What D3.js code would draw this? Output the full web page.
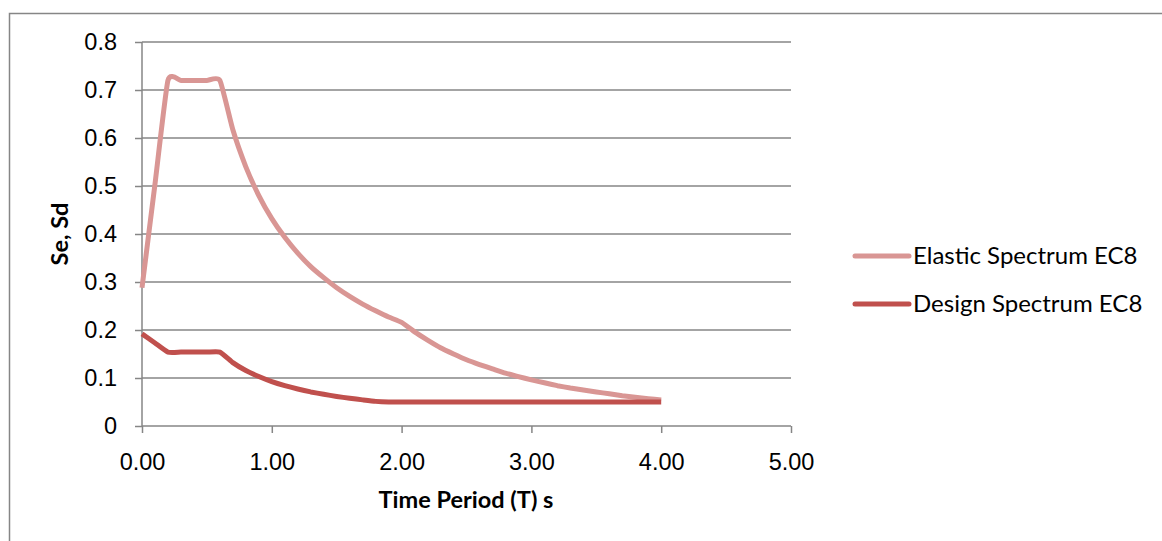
<!DOCTYPE html>
<html>
<head>
<meta charset="utf-8">
<style>
    body { margin: 0; background: #fff; }
    svg { display: block; font-family: Lato, 'Open Sans', sans-serif; }
    .tick text { font-size: 23.5px; fill: #000; }
    .tick line { stroke: #868686; stroke-width: 1.5; }
    .domain { stroke: #868686; stroke-width: 1.5; }
    .title { font-size: 23.5px; font-weight: bold; }
    .legend text { font-size: 24px; }
</style>
</head>
<body>
<svg width="1162" height="541"></svg>
<script src="https://d3js.org/d3.v7.min.js"></script>
<script>
    // periods (s)
    let periods = [0, 0.1, 0.2, 0.3, 0.4, 0.5, 0.6, 0.7, 0.8, 0.9, 1.0, 1.1, 1.2, 1.3, 1.4, 1.5, 1.6, 1.7, 1.8, 1.9, 2.0,
        2.1, 2.2, 2.3, 2.4, 2.5, 2.6, 2.7, 2.8, 2.9, 3.0, 3.1, 3.2, 3.3, 3.4, 3.5, 3.6, 3.7, 3.8, 3.9, 4.0]

    let elastic = [0.288, 0.504, 0.72, 0.72, 0.72, 0.72, 0.72, 0.617, 0.54, 0.48, 0.432, 0.393, 0.36, 0.332, 0.309, 0.288, 0.27, 0.254, 0.24, 0.227, 0.216,
        0.196, 0.179, 0.163, 0.15, 0.138, 0.128, 0.119, 0.11, 0.103, 0.096, 0.09, 0.084, 0.079, 0.075, 0.071, 0.067, 0.063, 0.06, 0.057, 0.054]

    let design = [0.192, 0.173, 0.154, 0.154, 0.154, 0.154, 0.154, 0.132, 0.1155, 0.103, 0.0924, 0.084, 0.077, 0.071, 0.066, 0.0616, 0.0578, 0.0544, 0.0513, 0.05, 0.05,
        0.05, 0.05, 0.05, 0.05, 0.05, 0.05, 0.05, 0.05, 0.05, 0.05, 0.05, 0.05, 0.05, 0.05, 0.05, 0.05, 0.05, 0.05, 0.05, 0.05]

    let seriesNames = ["Elastic Spectrum EC8", "Design Spectrum EC8"]
    let seriesColors = ["#D99694", "#C0504D"]

    let xTicks = [0, 1, 2, 3, 4, 5]
    let yTicks = [0, 0.1, 0.2, 0.3, 0.4, 0.5, 0.6, 0.7, 0.8]

    let svg = d3.select("svg")

    // outer chart border (only top and left visible in the crop)
    svg.append("rect")
        .attr("x", 9.5).attr("y", 13.5)
        .attr("width", 1200).attr("height", 600)
        .attr("fill", "none")
        .attr("stroke", "#868686")
        .attr("stroke-width", 1.5)

    let x = d3.scaleLinear().domain([0, 5]).range([142, 791])
    let y = d3.scaleLinear().domain([0, 0.8]).range([426, 42])

    // gridlines
    svg.append("g")
        .selectAll("line")
        .data(yTicks.slice(1))
        .join("line")
        .attr("x1", x(0)).attr("x2", x(5))
        .attr("y1", d => y(d)).attr("y2", d => y(d))
        .attr("stroke", "#868686")
        .attr("stroke-width", 1.5)

    let xAxis = svg.append("g")
        .attr("transform", `translate(0,${y(0)})`)
        .call(d3.axisBottom(x).tickValues(xTicks).tickSize(7).tickFormat(d3.format(".2f")))
    xAxis.select(".domain").attr("d", `M${x(0)},0H${x(5)}`)
    xAxis.selectAll(".tick text").attr("dy", "0.71em").attr("y", 27)

    let yAxis = svg.append("g")
        .attr("transform", `translate(${x(0)},0)`)
        .call(d3.axisLeft(y).tickValues(yTicks).tickSize(7).tickPadding(18).tickFormat(d => d3.format("")(+d.toFixed(1))))
    yAxis.select(".domain").attr("d", `M0,${y(0.8)}V${y(0)}`)

    // axis titles
    svg.append("text")
        .attr("class", "title")
        .attr("x", 466).attr("y", 508)
        .attr("text-anchor", "middle")
        .text("Time Period (T) s")

    svg.append("text")
        .attr("class", "title")
        .attr("transform", `translate(68,234) rotate(-90)`)
        .attr("text-anchor", "middle")
        .text("Se, Sd")

    // excel-like smoothing, mild overshoot
    let line = d3.line()
        .x(d => x(d[0]))
        .y(d => y(d[1]))
        .curve(d3.curveCardinal.tension(0.5))

    let series = [elastic, design].map(vals => periods.map((t, i) => [t, vals[i]]))

    svg.append("g")
        .selectAll("path")
        .data(series)
        .join("path")
        .attr("d", line)
        .attr("fill", "none")
        .attr("stroke", (d, i) => seriesColors[i])
        .attr("stroke-width", 5)
        .attr("stroke-linejoin", "round")

    // legend
    let legend = svg.append("g")
        .attr("class", "legend")
        .selectAll("g")
        .data(seriesNames)
        .join("g")
        .attr("transform", (d, i) => `translate(855,${256 + i * 48})`)

    legend.append("line")
        .attr("x1", 0).attr("x2", 54)
        .attr("stroke", (d, i) => seriesColors[i])
        .attr("stroke-width", 5)
        .attr("stroke-linecap", "round")

    legend.append("text")
        .attr("x", 58)
        .attr("dy", "0.35em")
        .text(d => d)
</script>
</body>
</html>
